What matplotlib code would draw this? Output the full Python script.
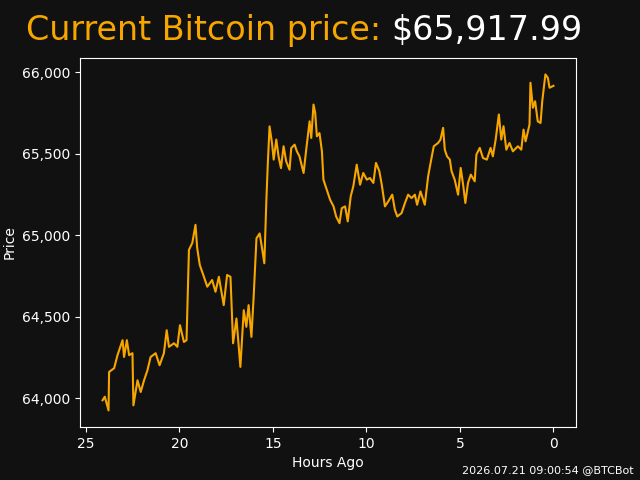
#!/usr/bin/env python3
"""
Line chart: bitcoin price over the last 24 hours, dark theme.
"""
import matplotlib
matplotlib.use('Agg')
import matplotlib.pyplot as plt
from matplotlib.ticker import FuncFormatter

BG     = '#111111'
FG     = '#ffffff'
ORANGE = '#f7a600'

# ── price trace (hours ago, USD) ──────────────────────────────────────────────
hours_ago = [
    24.11, 23.99, 23.79, 23.76, 23.49, 23.31, 23.04, 22.96, 22.81, 22.69,
    22.51, 22.46, 22.24, 22.07, 21.89, 21.71, 21.54, 21.27, 21.06, 20.83,
    20.68, 20.56, 20.29, 20.11, 19.97, 19.76, 19.62, 19.49, 19.31, 19.14,
    19.05, 18.91, 18.69, 18.51, 18.25, 18.07, 17.89, 17.63, 17.45, 17.27,
    17.13, 16.95, 16.74, 16.56, 16.42, 16.30, 16.15, 16.03, 15.88, 15.71,
    15.58, 15.46, 15.35, 15.28, 15.18, 15.05, 14.96, 14.82, 14.70, 14.57,
    14.43, 14.29, 14.11, 14.02, 13.84, 13.72, 13.58, 13.36, 13.22, 13.04,
    12.95, 12.83, 12.74, 12.65, 12.51, 12.38, 12.30, 12.12, 11.94, 11.76,
    11.62, 11.44, 11.32, 11.14, 11.00, 10.84, 10.70, 10.52, 10.34, 10.17,
    9.98, 9.81, 9.63, 9.49, 9.31, 9.18, 9.01, 8.83, 8.62, 8.48,
    8.35, 8.12, 7.94, 7.77, 7.59, 7.41, 7.29, 7.11, 6.88, 6.70,
    6.57, 6.40, 6.17, 6.04, 5.90, 5.81, 5.69, 5.54, 5.45, 5.28,
    5.10, 4.96, 4.83, 4.71, 4.57, 4.42, 4.21, 4.12, 3.94, 3.77,
    3.56, 3.36, 3.24, 3.09, 2.92, 2.79, 2.67, 2.52, 2.35, 2.17,
    1.90, 1.72, 1.60, 1.49, 1.28, 1.23, 1.10, 0.98, 0.84, 0.69,
    0.60, 0.43, 0.30, 0.21, 0.00,
]
prices = [
    63988, 64010, 63926, 64162, 64185, 64265, 64357, 64254, 64357, 64265,
    64277, 63957, 64111, 64039, 64111, 64172, 64254, 64277, 64203, 64277,
    64418, 64316, 64338, 64316, 64449, 64346, 64357, 64911, 64954, 65065,
    64923, 64818, 64746, 64685, 64726, 64654, 64746, 64572, 64757, 64746,
    64338, 64490, 64193, 64541, 64439, 64572, 64377, 64623, 64982, 65012,
    64920, 64829, 65218, 65423, 65669, 65567, 65465, 65588, 65485, 65413,
    65547, 65454, 65403, 65536, 65557, 65516, 65485, 65383, 65526, 65700,
    65598, 65803, 65752, 65608, 65628, 65516, 65342, 65280, 65218, 65178,
    65116, 65075, 65167, 65178, 65086, 65240, 65302, 65434, 65311, 65383,
    65342, 65352, 65322, 65445, 65394, 65311, 65178, 65209, 65250, 65158,
    65116, 65137, 65199, 65250, 65229, 65250, 65188, 65270, 65188, 65363,
    65445, 65547, 65567, 65588, 65660, 65526, 65485, 65465, 65394, 65342,
    65250, 65414, 65311, 65199, 65322, 65373, 65332, 65496, 65537, 65475,
    65465, 65537, 65485, 65588, 65742, 65588, 65670, 65526, 65567, 65516,
    65547, 65526, 65649, 65577, 65680, 65937, 65783, 65823, 65700, 65690,
    65823, 65988, 65967, 65906, 65917.99,
]

current_price = prices[-1]
timestamp = '2026.07.21 09:00:54 @BTCBot'

# ── figure ─────────────────────────────────────────────────────────────────────
fig, ax = plt.subplots(figsize=(6.4, 4.8), dpi=100, facecolor=BG)
ax.set_facecolor(BG)
for s in ax.spines.values():
    s.set_color(FG)
ax.tick_params(colors=FG, labelsize=10)

ax.plot(hours_ago, prices, color=ORANGE, linewidth=1.5)
ax.invert_xaxis()
ax.yaxis.set_major_formatter(FuncFormatter(lambda v, _: f'{v:,.0f}'))
ax.set_xlabel('Hours Ago', color=FG, fontsize=10)
ax.set_ylabel('Price', color=FG, fontsize=10)

# title in two colours
t1 = fig.text(26 / 640, 0.936, 'Current Bitcoin price: ', color=ORANGE,
              fontsize=24, ha='left', va='center')
fig.canvas.draw()
bb = t1.get_window_extent()
fig.text(bb.x1 / fig.bbox.width, 0.936, f'${current_price:,.2f}', color=FG,
         fontsize=24, ha='left', va='center')

fig.text(0.99, 0.01, timestamp, color=FG, fontsize=8, ha='right', va='bottom')

fig.savefig('out.png', dpi=100, facecolor=BG)
plt.close(fig)
